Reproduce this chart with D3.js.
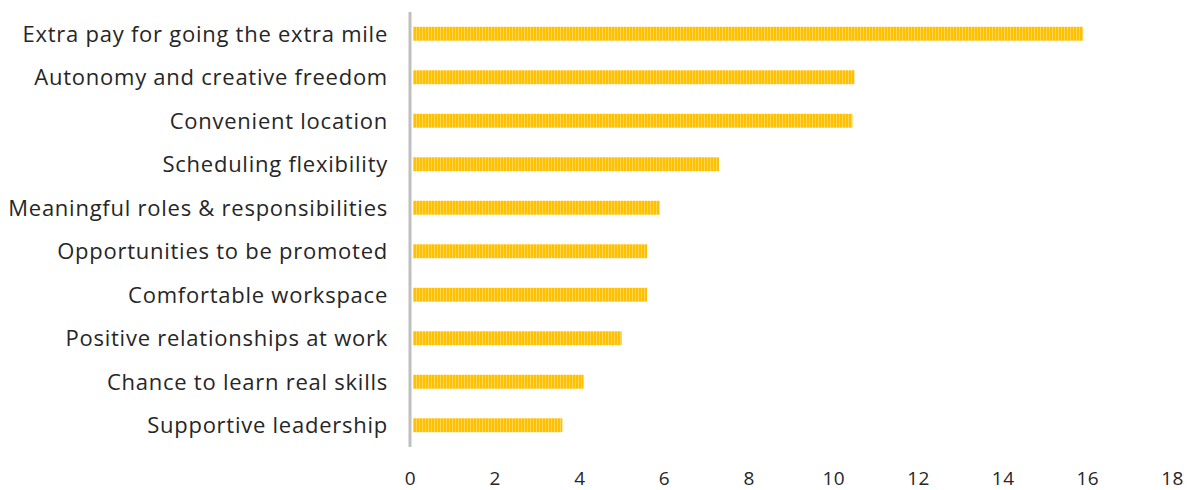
<!DOCTYPE html>
<html>
<head>
<meta charset="utf-8">
<script src="https://cdn.jsdelivr.net/npm/d3@7"></script>
<style>
  html, body { margin: 0; padding: 0; background: #fff; }
  svg { display: block; }
  text { font-family: "Open Sans", Lato, sans-serif; fill: #262626; }
</style>
</head>
<body>
<svg id="chart" width="1192" height="490"></svg>
<script>
// Reasons people stay in a job
const categories = [
  "Extra pay for going the extra mile",
  "Autonomy and creative freedom",
  "Convenient location",
  "Scheduling flexibility",
  "Meaningful roles & responsibilities",
  "Opportunities to be promoted",
  "Comfortable workspace",
  "Positive relationships at work",
  "Chance to learn real skills",
  "Supportive leadership"
];
const values = [15.9, 10.5, 10.45, 7.3, 5.9, 5.6, 5.6, 5.0, 4.1, 3.6];
const xTicks = [0, 2, 4, 6, 8, 10, 12, 14, 16, 18];

const svg = d3.select("#chart");
const margin = { left: 410, right: 20, top: 12, bottom: 43 };
const W = 1192, H = 490;

const x = d3.scaleLinear().domain([0, 18]).range([margin.left, 1172]);
const y = d3.scaleBand().domain(categories)
  .range([margin.top, H - margin.bottom]).paddingInner(0.68).paddingOuter(0.34);

// Vertical stripe fill for the bars
const defs = svg.append("defs");
const pat = defs.append("pattern")
  .attr("id", "stripes").attr("patternUnits", "userSpaceOnUse")
  .attr("width", 3).attr("height", 10);
pat.append("rect").attr("width", 3).attr("height", 10).attr("fill", "#FFD65C");
pat.append("rect").attr("width", 2).attr("height", 10).attr("fill", "#FFC000");

// Bars
svg.append("g").selectAll("rect")
  .data(values)
  .join("rect")
  .attr("x", x(0) + 3)
  .attr("y", (d, i) => y(categories[i]))
  .attr("width", d => x(d) - x(0) - 3)
  .attr("height", y.bandwidth())
  .attr("fill", "url(#stripes)");

// Category axis line
svg.append("line")
  .attr("x1", x(0)).attr("x2", x(0))
  .attr("y1", margin.top).attr("y2", H - margin.bottom)
  .attr("stroke", "#BFBFBF").attr("stroke-width", 3);

// Category labels
svg.append("g").selectAll("text")
  .data(categories)
  .join("text")
  .attr("x", 388)
  .attr("y", d => y(d) + y.bandwidth() / 2)
  .attr("dy", "0.36em")
  .attr("text-anchor", "end")
  .style("font-size", "22px")
  .style("font-weight", 400)
  .style("letter-spacing", "0.75px")
  .text(d => d);

// Value axis labels (no line)
const xAxis = d3.axisBottom(x).tickValues(xTicks).tickSize(0).tickPadding(0);
const gx = svg.append("g").attr("transform", `translate(0, 471)`).call(xAxis);
gx.select(".domain").remove();
gx.selectAll("text")
  .attr("dy", "0.71em")
  .style("font-size", "19px")
  .style("font-weight", 400)
  .style("letter-spacing", "0.5px")
  .style("font-family", "'Open Sans', Lato, sans-serif")
  .attr("fill", "#262626");
</script>
</body>
</html>
